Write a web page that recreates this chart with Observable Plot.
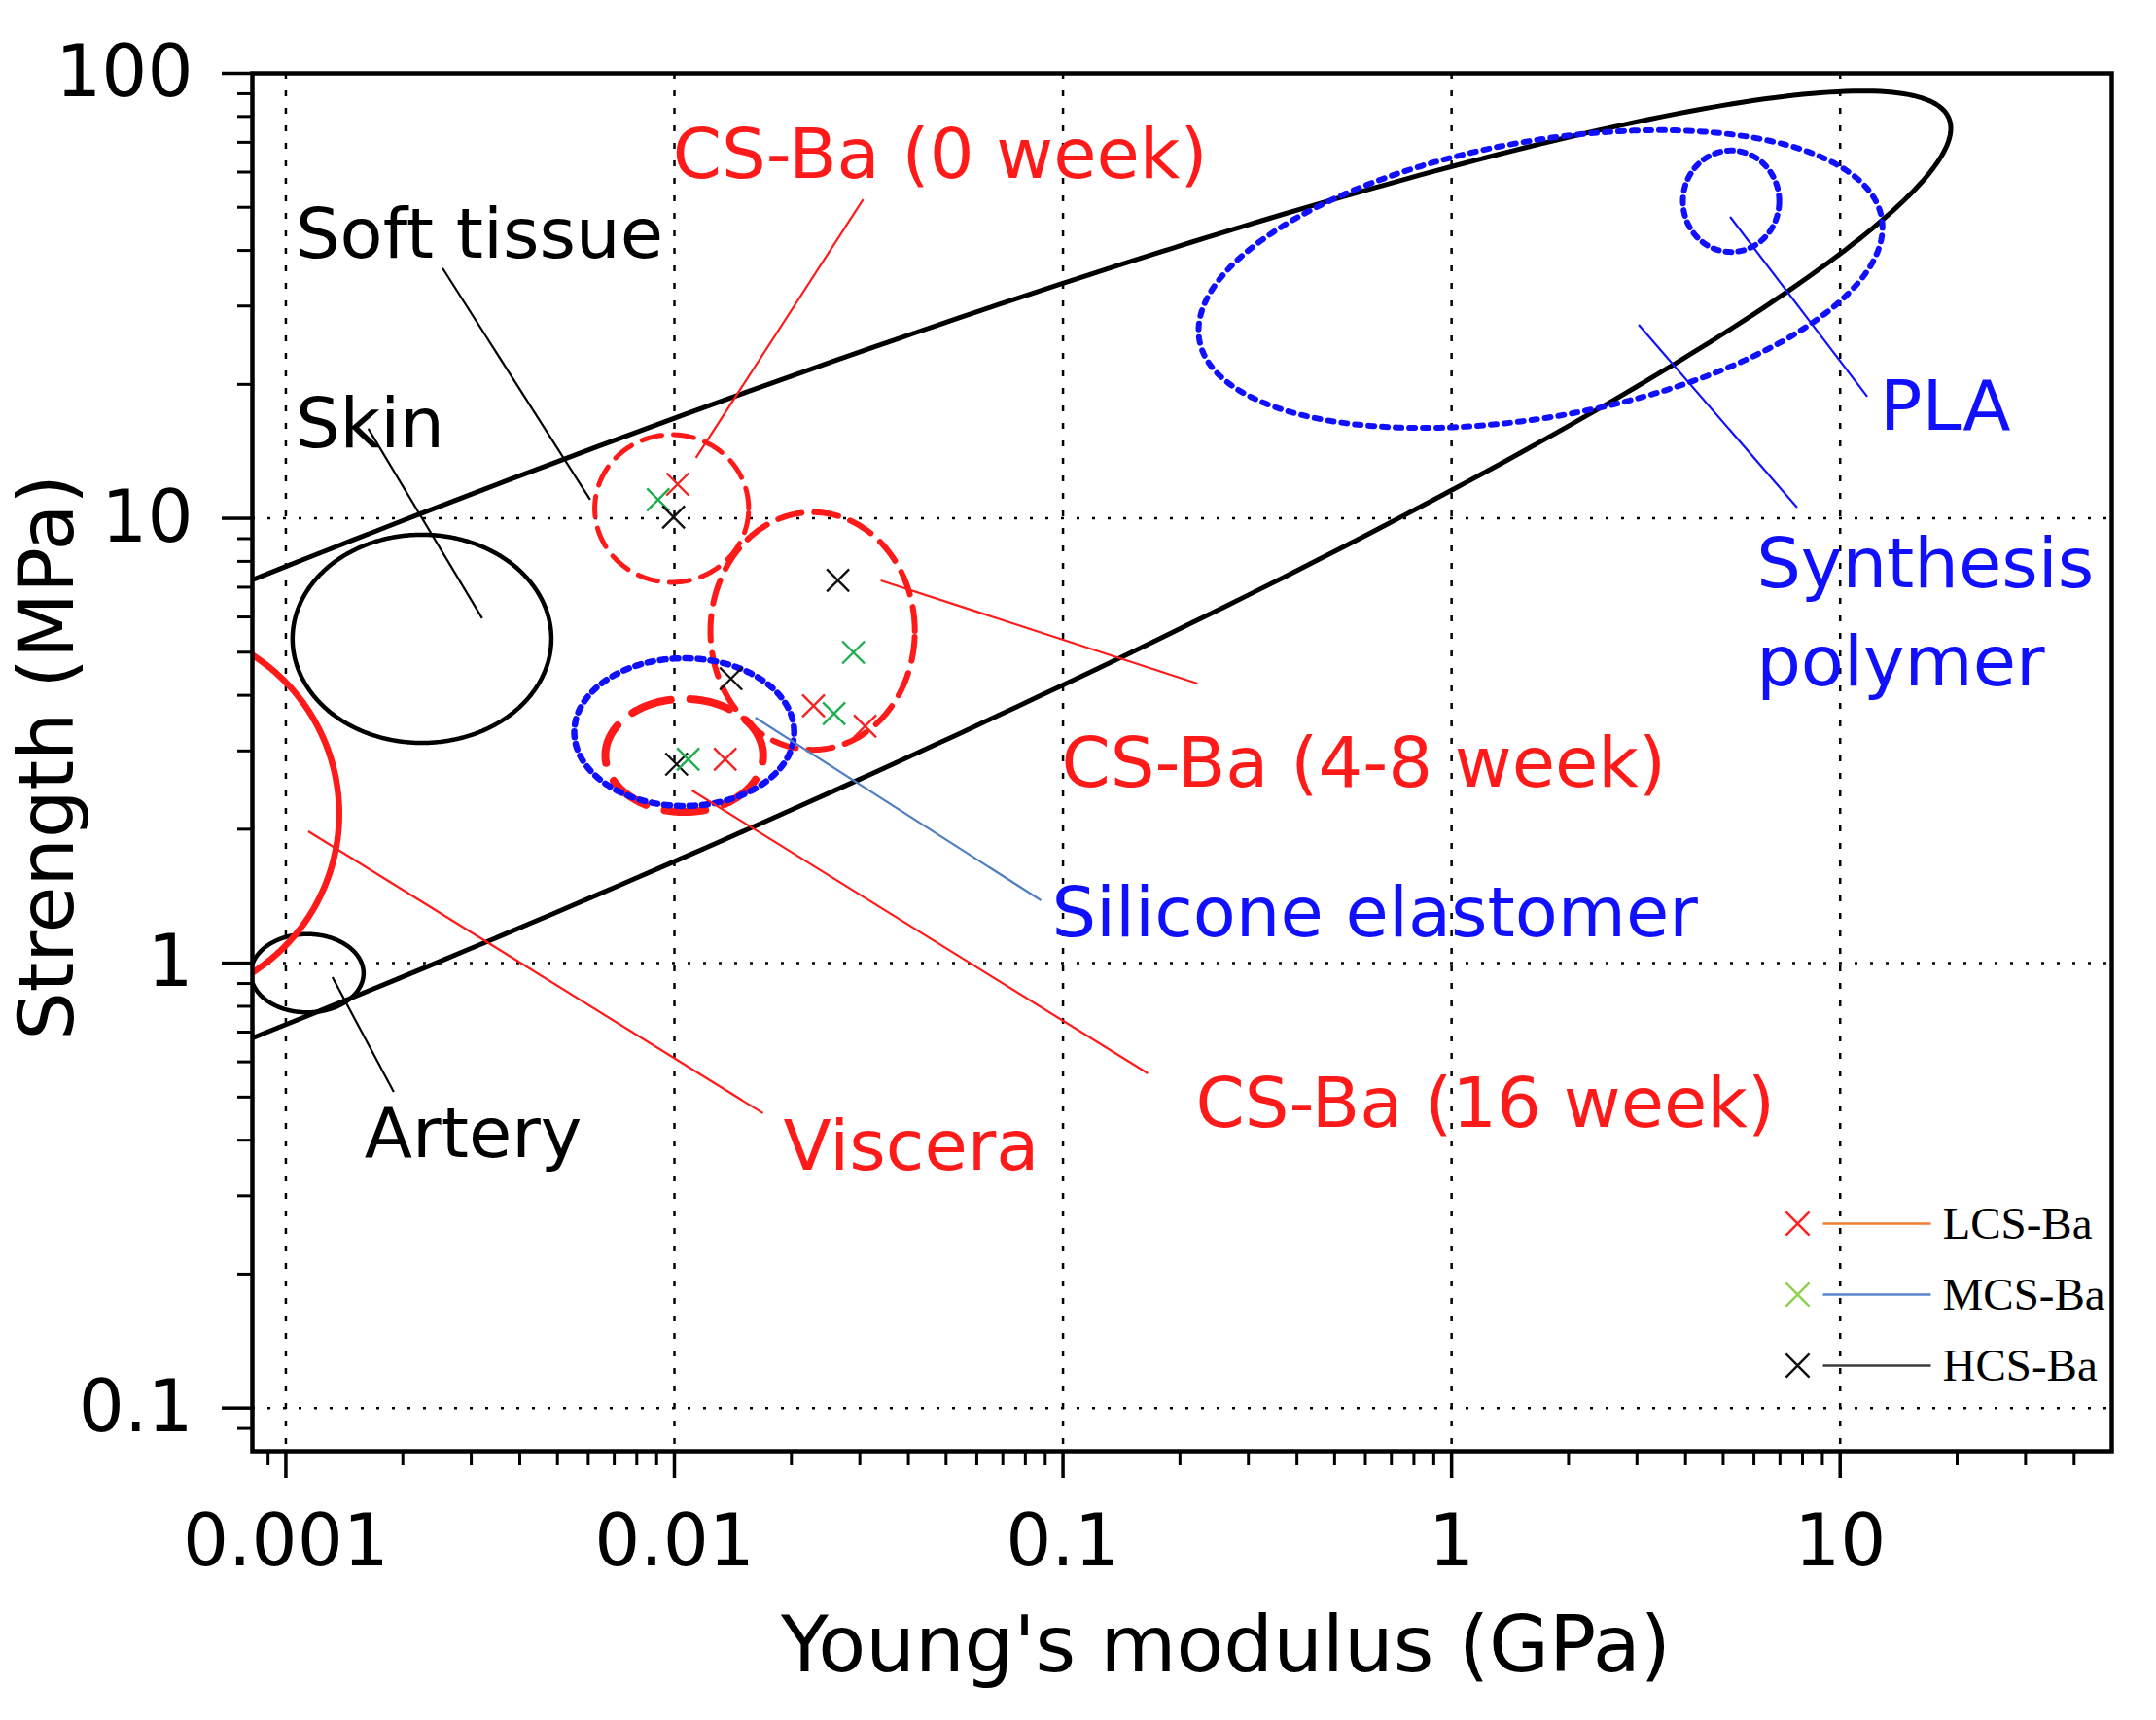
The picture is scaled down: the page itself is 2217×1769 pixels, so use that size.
<!DOCTYPE html>
<html>
<head>
<meta charset="utf-8">
<script src="https://cdn.jsdelivr.net/npm/d3@7"></script>
<script src="https://cdn.jsdelivr.net/npm/@observablehq/plot@0.6"></script>
<style>
  html, body { margin: 0; padding: 0; background: #fff; }
  #chart { width: 2217px; height: 1769px; }
</style>
</head>
<body>
<div id="chart"></div>
<script>
// ---------------- DATA ----------------
// Axis ticks (Young's modulus in GPa, strength in MPa)
const xTickValues = [0.001, 0.01, 0.1, 1, 10];
const xTickLabels = ["0.001", "0.01", "0.1", "1", "10"];
const yTickValues = [0.1, 1, 10, 100];
const yTickLabels = ["0.1", "1", "10", "100"];
const xTitle = "Young's modulus (GPa)";
const yTitle = "Strength (MPa)";

// Property regions (ellipses on the log–log map):
// centre modulus (GPa), centre strength (MPa), half-width and half-height in decades, tilt of the conjugate diameter
const regionNames = ["Soft tissue", "Skin", "Artery", "Viscera", "CS-Ba (0 week)", "CS-Ba (4-8 week)",
                     "CS-Ba (16 week)", "Silicone elastomer", "Synthesis polymer", "PLA"];
const regionE     = [0.000767, 0.00224, 0.001135, 0.000449, 0.00984, 0.02268, 0.0106, 0.0106, 1.694, 5.24];
const regionS     = [2.17,     5.36,    0.949,    2.166,    10.52,   5.58,    2.93,   3.306,  34.5,  51.6];
const regionHalfW = [4.40,     0.333,   0.145,    0.485,    0.198,   0.263,   0.203,  0.283,  0.880, 0.124];
const regionHalfH = [0.515,    0.234,   0.088,    0.424,    0.166,   0.267,   0.127,  0.166,  0.314, 0.114];
const regionTilt  = [0.350,    0,       0,        0,        0,       0,       0,      0,      0.1316, 0];

// Measured samples (x markers)
const sampleSeries = ["LCS-Ba", "MCS-Ba", "HCS-Ba",
                      "HCS-Ba", "MCS-Ba", "LCS-Ba", "MCS-Ba", "LCS-Ba", "HCS-Ba",
                      "HCS-Ba", "MCS-Ba", "LCS-Ba"];
const sampleE = [0.01019, 0.00908, 0.00995,
                 0.02635, 0.02889, 0.0228, 0.02575, 0.03095, 0.01398,
                 0.01013, 0.01085, 0.01351];
const sampleS = [11.93, 11.01, 10.06,
                 7.25, 4.995, 3.79, 3.64, 3.41, 4.36,
                 2.80, 2.873, 2.873];

// Annotation labels (anchored at the start of their baseline)
const labelTexts = ["Soft tissue", "Skin", "Artery", "Viscera", "CS-Ba (0 week)", "CS-Ba (4-8 week)",
                    "Silicone elastomer", "CS-Ba (16 week)", "PLA", "Synthesis", "polymer"];
const labelE = [0.001059, 0.001059, 0.001594, 0.01908, 0.00990, 0.0991, 0.0935, 0.2194, 12.65, 6.09, 6.09];
const labelS = [38.6, 14.45, 0.3666, 0.3433, 58.2, 2.495, 1.149, 0.4285, 15.82, 7.0, 4.20];

// Leader lines from labels to regions
const leaderNames = ["Soft tissue", "Skin", "Artery", "Viscera", "CS-Ba (0 week)", "CS-Ba (4-8 week)",
                     "Silicone elastomer", "CS-Ba (16 week)", "PLA", "Synthesis polymer"];
const leaderE1 = [0.00253, 0.00163, 0.001318, 0.001142, 0.0306, 0.03395, 0.01615, 0.0111, 5.21, 3.03];
const leaderS1 = [36.5, 15.9, 0.930, 1.979, 52.1, 7.25, 3.565, 2.444, 47.6, 27.24];
const leaderE2 = [0.00607, 0.00320, 0.001895, 0.0169, 0.01136, 0.2219, 0.0878, 0.1654, 11.74, 7.75];
const leaderS2 = [11.01, 5.96, 0.5136, 0.46, 13.67, 4.253, 1.384, 0.565, 18.77, 10.57];

const legendNames = ["LCS-Ba", "MCS-Ba", "HCS-Ba"];

// ---------------- STYLES ----------------
const RED = "#ff1a1a", BLUE = "#1010ff", BLACK = "#000";
const regionStyle = {
  "Soft tissue":        {stroke: BLACK, strokeWidth: 5},
  "Skin":               {stroke: BLACK, strokeWidth: 4.5},
  "Artery":             {stroke: BLACK, strokeWidth: 4.5},
  "Viscera":            {stroke: RED,   strokeWidth: 6.5},
  "CS-Ba (0 week)":     {stroke: RED,   strokeWidth: 5,   strokeDasharray: "21,12"},
  "CS-Ba (4-8 week)":   {stroke: RED,   strokeWidth: 6,   strokeDasharray: "25,13"},
  "CS-Ba (16 week)":    {stroke: RED,   strokeWidth: 8,   strokeDasharray: "42,20"},
  "Silicone elastomer": {stroke: BLUE,  strokeWidth: 6.5, strokeDasharray: "6,7"},
  "Synthesis polymer":  {stroke: BLUE,  strokeWidth: 6,   strokeDasharray: "6,8"},
  "PLA":                {stroke: BLUE,  strokeWidth: 6,   strokeDasharray: "6,7"}
};
const labelColor = {
  "Soft tissue": BLACK, "Skin": BLACK, "Artery": BLACK, "Viscera": RED, "CS-Ba (0 week)": RED,
  "CS-Ba (4-8 week)": RED, "Silicone elastomer": BLUE, "CS-Ba (16 week)": RED, "PLA": BLUE,
  "Synthesis": BLUE, "polymer": BLUE
};
const leaderColor = {
  "Soft tissue": BLACK, "Skin": BLACK, "Artery": BLACK, "Viscera": RED, "CS-Ba (0 week)": RED,
  "CS-Ba (4-8 week)": RED, "Silicone elastomer": "#4f7fc0", "CS-Ba (16 week)": RED, "PLA": BLUE,
  "Synthesis polymer": BLUE
};
const sampleColor = {"LCS-Ba": "#f42424", "MCS-Ba": "#1fae4f", "HCS-Ba": "#111"};
const legendMarkerColor = {"LCS-Ba": "#ff2020", "MCS-Ba": "#8fd14f", "HCS-Ba": "#111"};
const legendLineColor = {"LCS-Ba": "#ed7d31", "MCS-Ba": "#5b84cf", "HCS-Ba": "#3a3a3a"};

// ---------------- BUILD ----------------
const regions = regionNames.map((name, i) => ({
  name, E: regionE[i], S: regionS[i], W: regionHalfW[i], H: regionHalfH[i], tilt: regionTilt[i]
}));
function outline(r, n = 480) {
  const lx0 = Math.log10(r.E), ly0 = Math.log10(r.S);
  return d3.range(n + 1).map(k => {
    const t = 2 * Math.PI * k / n, c = Math.cos(t), s = Math.sin(t);
    return {name: r.name, E: 10 ** (lx0 + r.W * c), S: 10 ** (ly0 + r.tilt * r.W * c + r.H * s)};
  });
}
const samples = sampleSeries.map((series, i) => ({series, E: sampleE[i], S: sampleS[i]}));
const labels = labelTexts.map((text, i) => ({text, E: labelE[i], S: labelS[i]}));
const leaders = leaderNames.map((name, i) => ({name, E1: leaderE1[i], S1: leaderS1[i], E2: leaderE2[i], S2: leaderS2[i]}));

const xDomain = [0.00082, 50];
const yDomain = [0.08, 100];
const minorX = [];
for (let p = -4; p <= 1; p++) for (let m = 2; m <= 9; m++) {
  const v = m * 10 ** p; if (v > xDomain[0] && v < xDomain[1]) minorX.push(v);
}
const minorY = [];
for (let p = -2; p <= 1; p++) for (let m = 2; m <= 9; m++) {
  const v = m * 10 ** p; if (v > yDomain[0] && v < yDomain[1]) minorY.push(v);
}
const xFmt = d => xTickLabels[xTickValues.indexOf(d)];
const yFmt = d => yTickLabels[yTickValues.indexOf(d)];
const FONT = "DejaVu Sans";

const lineSymbol = {draw(ctx) { ctx.moveTo(-55.5, 0); ctx.lineTo(55.5, 0); }};
const legendDy = [-234, -161, -88];

const marks = [
  Plot.gridX({ticks: xTickValues, stroke: "#000", strokeOpacity: 1, strokeWidth: 2.5, strokeDasharray: "6,12"}),
  Plot.gridY({ticks: yTickValues, stroke: "#000", strokeOpacity: 1, strokeWidth: 2.5, strokeDasharray: "3,13"}),
  ...regions.map(r => Plot.line(outline(r), {x: "E", y: "S", clip: true, fill: "none",
      strokeLinejoin: "round", ...regionStyle[r.name]})),
  Plot.link(leaders, {x1: "E1", y1: "S1", x2: "E2", y2: "S2", stroke: d => leaderColor[d.name], strokeWidth: 2.2}),
  Plot.dot(samples, {x: "E", y: "S", symbol: "times", r: 10.5, stroke: d => sampleColor[d.series], strokeWidth: 2.4}),
  Plot.text(labels, {x: "E", y: "S", text: "text", fill: d => labelColor[d.text], textAnchor: "start",
      lineAnchor: "bottom", fontSize: 72, fontFamily: FONT}),
  Plot.frame({stroke: "#000", strokeWidth: 4.5}),
  Plot.axisX({ticks: minorX, tickSize: 15, tickFormat: () => "", strokeWidth: 3, label: null}),
  Plot.axisX({ticks: xTickValues, tickSize: 28, tickPadding: 37, tickFormat: xFmt, strokeWidth: 3.5,
      fontSize: 74, fontFamily: FONT, label: null}),
  Plot.axisY({ticks: minorY, tickSize: 15, tickFormat: () => "", strokeWidth: 3, label: null}),
  Plot.axisY({ticks: yTickValues, tickSize: 31, tickPadding: 30, tickFormat: yFmt, strokeWidth: 3.5,
      fontSize: 74, fontFamily: FONT, label: null}),
  Plot.text([xTitle], {frameAnchor: "bottom", dx: 45, dy: 201, textAnchor: "middle", lineAnchor: "middle",
      fontSize: 80, fontFamily: FONT, fill: "#000"}),
  Plot.text([yTitle], {frameAnchor: "left", dx: -209, dy: -5, rotate: -90, textAnchor: "middle", lineAnchor: "middle",
      fontSize: 78, fontFamily: FONT, fill: "#000"}),
  ...legendNames.flatMap((name, i) => [
    Plot.dot([name], {x: null, y: null, frameAnchor: "bottom-right", dx: -323, dy: legendDy[i], symbol: "times", r: 11,
        stroke: legendMarkerColor[name], strokeWidth: 2.5}),
    Plot.dot([name], {x: null, y: null, frameAnchor: "bottom-right", dx: -241.5, dy: legendDy[i], symbol: lineSymbol,
        stroke: legendLineColor[name], strokeWidth: 2.5}),
    Plot.text([name], {frameAnchor: "bottom-right", dx: -174, dy: legendDy[i], textAnchor: "start", lineAnchor: "middle",
        fontFamily: "Liberation Serif", fontSize: 47, fill: "#000"})
  ])
];

const chart = Plot.plot({
  width: 2217,
  height: 1769,
  marginLeft: 259,
  marginRight: 46,
  marginTop: 75,
  marginBottom: 277,
  x: {type: "log", domain: xDomain},
  y: {type: "log", domain: yDomain},
  color: {type: "identity"},
  style: {background: "#fff", fontFamily: FONT, color: "#000"},
  marks
});
document.getElementById("chart").appendChild(chart);
</script>
</body>
</html>
